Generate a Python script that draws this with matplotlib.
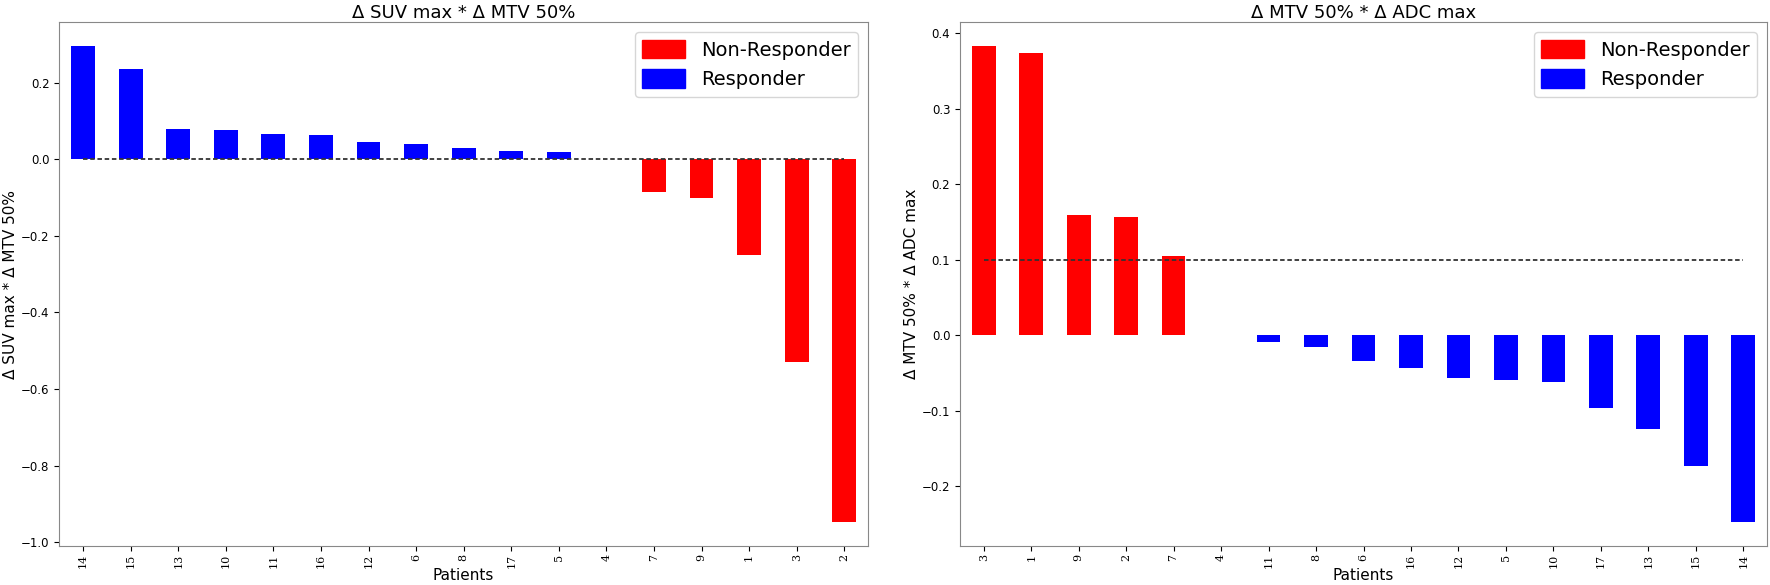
import numpy as np
import matplotlib
matplotlib.use("Agg")
import matplotlib.pyplot as plt
from matplotlib.patches import Patch

# Left panel: delta SUV max * delta MTV 50%
pat_left = ["14", "15", "13", "10", "11", "16", "12", "6", "8", "17", "5", "4", "7", "9", "1", "3", "2"]
val_left = [0.296, 0.235, 0.080, 0.076, 0.067, 0.064, 0.046, 0.041, 0.031, 0.021, 0.018, 0.002,
            -0.085, -0.100, -0.251, -0.530, -0.948]

# Right panel: delta MTV 50% * delta ADC max
pat_right = ["3", "1", "9", "2", "7", "4", "11", "8", "6", "16", "12", "5", "10", "17", "13", "15", "14"]
val_right = [0.383, 0.374, 0.159, 0.156, 0.105, 0.0, -0.009, -0.016, -0.035, -0.044, -0.057,
             -0.060, -0.062, -0.097, -0.125, -0.173, -0.248]

non_responders = ["1", "2", "3", "7", "9"]

thresh_left = 0.0
thresh_right = 0.1

fig = plt.figure(figsize=(17.7, 5.85), dpi=100)
ax1 = fig.add_axes([59.3 / 1770, 1 - 546 / 585, (868 - 59.3) / 1770, (546 - 22.3) / 585])
ax2 = fig.add_axes([960 / 1770, 1 - 546 / 585, (1767 - 960) / 1770, (546 - 22.3) / 585])

panels = [(ax1, pat_left, val_left, thresh_left, "\u0394 SUV max * \u0394 MTV 50%"),
          (ax2, pat_right, val_right, thresh_right, "\u0394 MTV 50% * \u0394 ADC max")]

for ax, pats, vals, thr, title in panels:
    x = np.arange(len(pats))
    cols = ["red" if p in non_responders else "blue" for p in pats]
    ax.bar(x, vals, width=0.5, color=cols)
    ax.plot([x[0], x[-1]], [thr, thr], linestyle="--", color="#333333", linewidth=1.3, dashes=(2.5, 1.5))
    ax.set_xlim(-0.5, len(pats) - 0.5)
    ax.set_xticks(x)
    ax.set_xticklabels(pats, rotation=90, fontsize=8, family="DejaVu Serif")
    ax.tick_params(axis="x", pad=2)
    ax.tick_params(axis="y", labelsize=8.5)
    ax.set_xlabel("Patients", fontsize=11, labelpad=0)
    ax.set_ylabel(title, fontsize=11, labelpad=2)
    ax.set_title(title, fontsize=13, pad=2)
    for sp in ax.spines.values():
        sp.set_color("#888888")
    handles = [Patch(color="red", label="Non-Responder"), Patch(color="blue", label="Responder")]
    ax.legend(handles=handles, loc="upper right", fontsize=14, handlelength=2.2, handleheight=1.1)

plt.savefig("out.png", dpi=100)
